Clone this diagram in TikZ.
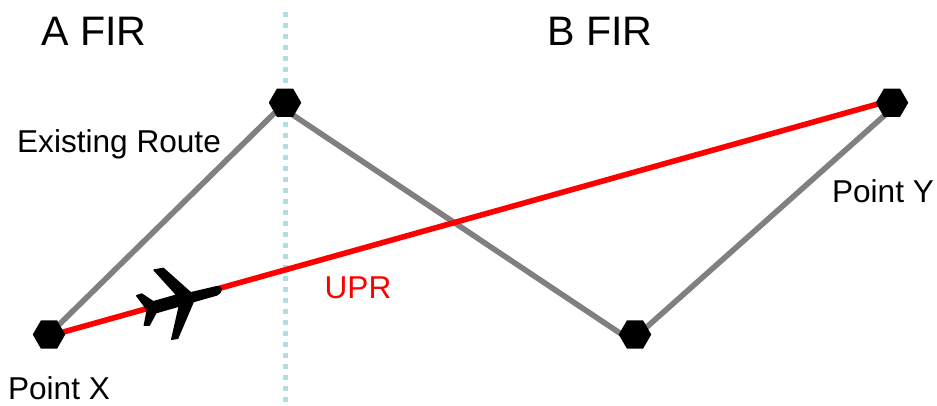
\documentclass[tikz,border=0pt]{standalone}
\usepackage{fontspec}
\setmainfont{Liberation Sans}
\usetikzlibrary{shapes.geometric}
\definecolor{firline}{RGB}{176,222,226}
\definecolor{routegray}{RGB}{128,128,128}
\definecolor{uprred}{RGB}{255,0,0}
\pgfdeclarelayer{under}
\pgfsetlayers{under,main}
\tikzset{
  waypoint/.style={regular polygon,regular polygon sides=6,fill=black,inner sep=0pt,minimum size=32.5*0.75pt},
  route/.style={routegray,line width=5.6*0.75pt},
  upr/.style={uprred,line width=5.6*0.75pt},
  firedge/.style={firline,line width=5*0.75pt,dash pattern=on 5*0.75pt off 6*0.75pt},
  big/.style={font=\fontsize{30.9}{36}\selectfont,inner sep=0pt,anchor=center},
  small/.style={font=\fontsize{23.7}{28}\selectfont,inner sep=0pt,anchor=center}
}
\begin{document}
\begin{tikzpicture}[x=0.75pt,y=-0.75pt]
\useasboundingbox (0,0) rectangle (937,405);
\coordinate (fa) at (285,12);
\coordinate (fb) at (285,402);
\node[waypoint] (x) at (49,334.5) {};
\node[waypoint] (t) at (285,102.7) {};
\node[waypoint] (b) at (635,334.5) {};
\node[waypoint] (y) at (892,102.7) {};
\begin{pgfonlayer}{under}
\draw[firedge] (fa) -- (fb);
\draw[route] (x.center) -- (t.center);
\draw[route] ([shift={(0,7)}]t.center) -- ([shift={(-13,0)}]b.center);
\draw[route] ([shift={(0,3)}]b.center) -- ([shift={(0,6)}]y.center);
\draw[upr] ([shift={(0,1.5)}]x.center) -- ([shift={(0,-2.7)}]y.center);
\end{pgfonlayer}
\filldraw[black,line width=1pt,line join=round] (216.7,286.7) .. controls (222,285.6) and (223.5,291.5) .. (216.7,295) -- (193.3,301.7) -- (177.7,338.3) -- (171.7,339.3) -- (179.3,306) -- (156,312.7) -- (149.3,325.3) -- (144.3,325.3) -- (147.3,310) -- (136.7,295.7) -- (141.7,294) -- (153.3,301.7) -- (176.7,295) -- (154,270) -- (163.3,268.3) -- (190.7,292.7) -- cycle;
\node[big] (afir) at (94,31) {A FIR};
\node[big] (bfir) at (600,31) {B FIR};
\node[small] (er) at (119,144) {Existing Route};
\node[small] (py) at (883,191) {Point Y};
\node[small] (px) at (59,388) {Point X};
\node[small,text=uprred] (u) at (358,288) {UPR};
\end{tikzpicture}
\end{document}
